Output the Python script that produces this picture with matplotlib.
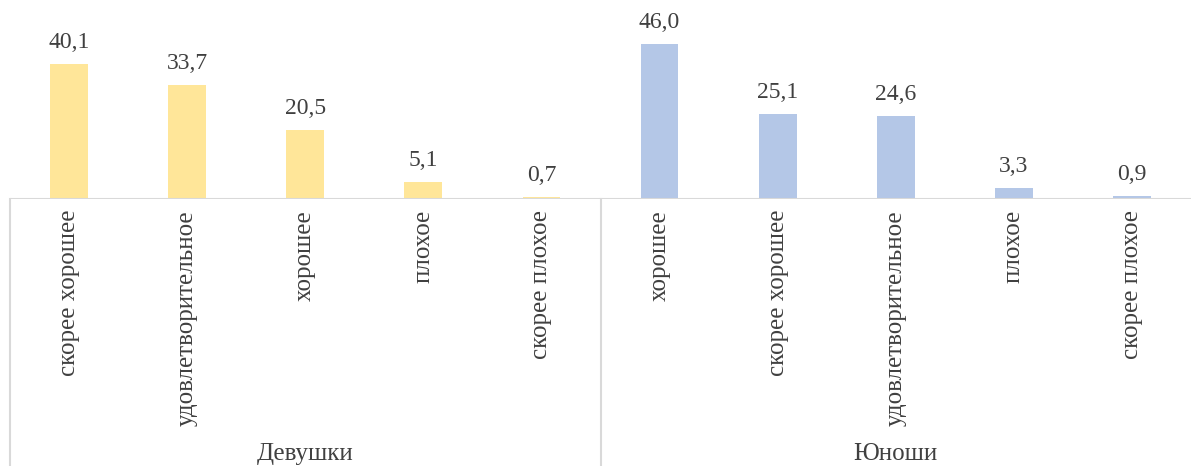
import matplotlib.pyplot as plt

plt.rcParams['font.family'] = ['Liberation Serif', 'DejaVu Serif']

girls_cats = ['скорее хорошее', 'удовлетворительное', 'хорошее', 'плохое', 'скорее плохое']
girls_vals = [40.1, 33.7, 20.5, 5.1, 0.7]
boys_cats = ['хорошее', 'скорее хорошее', 'удовлетворительное', 'плохое', 'скорее плохое']
boys_vals = [46.0, 25.1, 24.6, 3.3, 0.9]
groups = ['Девушки', 'Юноши']

W, H = 1191, 466
fig = plt.figure(figsize=(W / 100, H / 100), dpi=100)
ax_bottom = (H - 199) / H
ax = fig.add_axes([10 / W, ax_bottom, 1 - 10 / W, 199 / H])

text_col = '#404040'
grid_col = '#D9D9D9'
cats = girls_cats + boys_cats
vals = girls_vals + boys_vals
colors = ['#FFE699'] * len(girls_vals) + ['#B4C7E7'] * len(boys_vals)
x = list(range(len(cats)))

ax.bar(x, vals, width=0.32, color=colors)
for xi, v in zip(x, vals):
    ax.text(xi, v + 3.3, f'{v:.1f}'.replace('.', ','), ha='center', va='bottom',
            fontsize=17, color=text_col)

ax.set_xlim(-0.5, len(cats) - 0.5)
ax.set_ylim(0, 59)
ax.axis('off')
ax.axhline(0, color=grid_col, lw=1.5)

trans = ax.get_xaxis_transform()
ax_h = 199.0
for xi, c in zip(x, cats):
    ax.text(xi, -11 / ax_h, c, rotation=90, ha='center', va='top',
            fontsize=18, color=text_col, transform=trans, clip_on=False)

# group separators and group names
for sep in [-0.5, 4.5]:
    ax.plot([sep, sep], [0, -267 / ax_h], color=grid_col, lw=1.5,
            transform=trans, clip_on=False)
for gi, g in enumerate(groups):
    ax.text(gi * 5 + 2, -255 / ax_h, g, ha='center', va='center',
            fontsize=18, color=text_col, transform=trans, clip_on=False)

fig.savefig('out.png', dpi=100)
